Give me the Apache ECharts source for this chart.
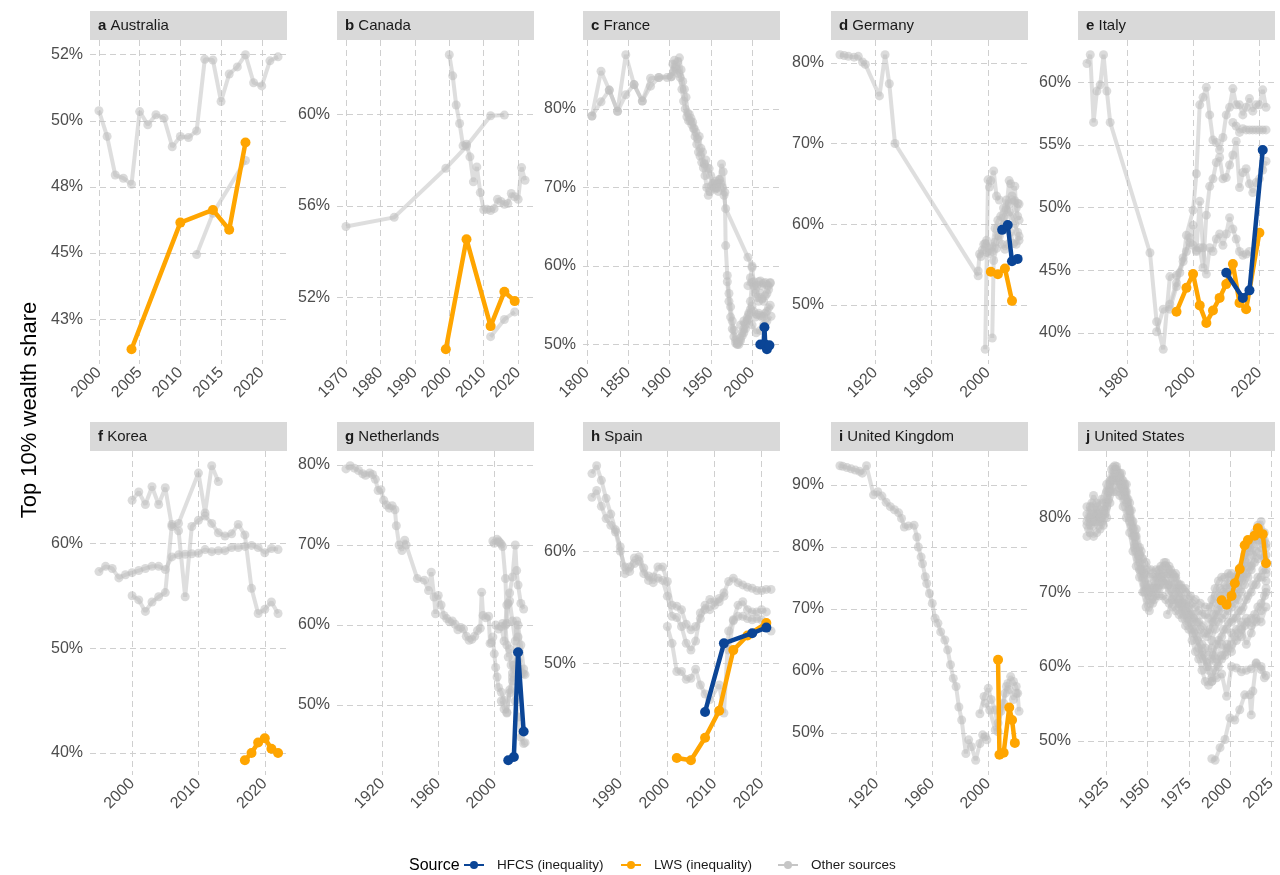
<!DOCTYPE html>
<html>
<head>
<meta charset="utf-8">
<script src="https://cdn.jsdelivr.net/npm/echarts@6/dist/echarts.min.js"></script>
<style>
  html, body { margin: 0; padding: 0; background: #ffffff; }
  #chart { width: 1280px; height: 875px; }
</style>
</head>
<body>
<div id="chart"></div>
<script>
// ---- Top 10% wealth share by country and source: [year, percent] ----

// a Australia
const ausLws = [[2004,41.36],[2010,46.15],[2014,46.63],[2016,45.88],[2018,49.18]];
const ausOtherA = [[2000,50.38],[2001,49.41],[2002,47.95],[2003,47.83],[2004,47.6],[2005,50.35],[2006,49.85],[2007,50.23],[2008,50.1],[2009,49.02],[2010,49.41],[2011,49.37],[2012,49.62],[2013,52.33],[2014,52.3],[2015,50.73],[2016,51.77],[2017,52.04],[2018,52.5],[2019,51.44],[2020,51.32],[2021,52.27],[2022,52.42]];
const ausOtherB = [[2012,44.94],[2014,46.5],[2018,48.5]];
const ausXTicks = [2000,2005,2010,2015,2020];
const ausYTicks = [42.5,45,47.5,50,52.5];
const ausYLabels = ['43%','45%','48%','50%','52%'];

// b Canada
const canLws = [[1999,49.75],[2005,54.55],[2012,50.76],[2016,52.26],[2019,51.85]];
const canOtherA = [[1970,55.1],[1984,55.5],[1999,57.64],[2005,58.6],[2012,59.93],[2016,59.96]];
const canOtherB = [[2000,62.59],[2001,61.67],[2002,60.4],[2003,59.59],[2004,58.62],[2005,58.69],[2006,58.14],[2007,57.05],[2008,57.7],[2009,56.58],[2010,55.83],[2011,55.85],[2012,55.8],[2013,55.88],[2014,56.29],[2015,56.19],[2016,56.07],[2017,56.1],[2018,56.54],[2019,56.4],[2020,56.29],[2021,57.67],[2022,57.12]];
const canOtherC = [[2012,50.3],[2016,51.05],[2019,51.38]];
const canXTicks = [1970,1980,1990,2000,2010,2020];
const canYTicks = [52,56,60];
const canYLabels = ['52%','56%','60%'];

// c France
const fraHfcs = [[2010,50.0],[2014,50.0],[2015,52.2],[2016,50.0],[2018,49.4],[2021,49.9]];
const fraOtherA = [[1806,79.1],[1817,84.8],[1827,82.4],[1837,79.7],[1847,86.9],[1857,83.1],[1867,81.0],[1877,83.9],[1887,84.0],[1897,84.0],[1902,84.1],[1904,85.7],[1906,86.2],[1908,85.5],[1910,86.0],[1912,86.5],[1914,85.0],[1916,83.5],[1918,82.5],[1920,81.5],[1922,79.5],[1924,79.3],[1926,78.8],[1928,78.3],[1930,77.5],[1932,77.0],[1934,76.2],[1936,76.5],[1938,75.0],[1940,74.5],[1942,73.0],[1944,73.5],[1946,72.5],[1948,72.4],[1950,71.5],[1952,70.5],[1954,70.0],[1956,70.8],[1958,70.5],[1960,71.0],[1962,70.5],[1964,70.0],[1966,69.0],[1968,67.3],[1995,61.1],[2000,60.0]];
const fraOtherB = [[1806,79.1],[1817,80.9],[1827,82.4],[1837,79.7],[1847,81.8],[1857,83.1],[1867,81.0],[1877,82.9],[1887,84.0],[1902,84.1],[1905,84.8],[1907,85.2],[1909,85.0],[1911,84.5],[1913,84.0],[1915,82.5],[1917,81.0],[1919,80.0],[1921,79.0],[1923,78.5],[1925,78.5],[1927,78.0],[1929,77.5],[1931,76.5],[1933,75.5],[1935,74.5],[1937,74.0],[1939,73.2],[1941,72.5],[1943,71.5],[1945,70.0],[1947,69.0],[1949,69.5],[1951,70.2],[1953,70.5],[1955,69.8],[1957,70.0],[1959,69.5],[1961,71.0],[1963,73.0],[1965,72.0],[1967,69.4],[1968,62.6],[1970,58.8],[1972,56.5],[1974,54.8],[1976,53.0],[1978,51.8],[1980,50.6],[1982,50.1],[1984,50.0],[1986,50.5],[1988,51.1],[1990,51.5],[1992,52.0],[1994,53.4],[1996,53.8],[1998,55.5],[2000,57.9],[2002,57.5],[2004,56.5],[2006,56.0],[2008,55.5],[2010,56.5],[2012,55.8],[2014,55.5],[2016,56.2],[2018,56.5],[2020,57.0],[2022,57.8]];
const fraOtherC = [[1970,58.0],[1972,55.5],[1974,53.5],[1976,52.0],[1978,51.0],[1980,50.2],[1982,50.0],[1984,50.3],[1986,50.8],[1988,51.5],[1990,52.0],[1992,52.5],[1994,53.0],[1996,54.0],[1998,54.5],[2000,54.9],[2002,54.2],[2004,53.5],[2006,53.8],[2008,54.0],[2010,53.7],[2012,53.5],[2014,53.6],[2016,54.0],[2018,54.2],[2020,54.7],[2022,55.0]];
const fraOtherD = [[1995,57.5],[1998,58.5],[2000,59.8],[2002,58.0],[2004,57.0],[2006,57.5],[2008,58.0],[2010,58.1],[2012,57.5],[2014,57.8],[2016,57.9],[2018,57.6],[2020,57.5],[2022,57.9]];
const fraOtherE = [[1986,52.5],[1990,53.0],[1995,53.2],[2000,52.5],[2005,51.5],[2010,51.8],[2014,52.5],[2018,53.0],[2023,53.6]];
const fraXTicks = [1800,1850,1900,1950,2000];
const fraYTicks = [50,60,70,80];
const fraYLabels = ['50%','60%','70%','80%'];

// d Germany
const deuHfcs = [[2010,59.3],[2014,59.9],[2017,55.4],[2021,55.7]];
const deuLws = [[2002,54.1],[2007,53.8],[2012,54.5],[2017,50.5]];
const deuOtherA = [[1895,81.0],[1898,80.9],[1901,80.8],[1905,80.7],[1908,80.8],[1911,80.1],[1913,79.8],[1923,75.9],[1927,81.0],[1930,77.4],[1934,70.0],[1993,53.6]];
const deuOtherB = [[1993,54.2],[1994,56.3],[1996,56.8],[1998,57.6],[1999,56.5],[2001,56.4],[2003,56.6],[2005,57.8],[2007,58.6],[2009,59.6],[2011,60.8],[2013,61.8],[2015,62.5],[2017,63.0],[2019,62.9],[2021,62.6],[2022,62.5]];
const deuOtherC = [[1998,44.5],[2000,65.5],[2001,64.6],[2002,65.4],[2004,66.6],[2006,63.5],[2008,63.0]];
const deuOtherD = [[2003,45.9],[2004,55.5],[2006,57.0],[2008,58.5],[2010,57.5],[2012,56.9],[2014,57.5],[2016,59.0],[2018,57.6],[2020,57.5],[2022,58.5]];
const deuOtherE = [[2012,60.0],[2015,65.4],[2016,65.0],[2017,63.5],[2019,64.7],[2020,62.0],[2021,61.0],[2022,60.5]];
const deuOtherF = [[1995,56.0],[1997,57.5],[1999,58.0],[2001,57.0],[2003,57.2],[2005,59.5],[2007,60.5],[2009,61.0],[2011,62.0],[2013,63.0],[2015,61.5],[2017,61.0],[2019,60.0],[2021,59.0],[2022,58.0]];
const deuXTicks = [1920,1960,2000];
const deuYTicks = [50,60,70,80];
const deuYLabels = ['50%','60%','70%','80%'];

// e Italy
const itaHfcs = [[2010,44.8],[2015,42.8],[2017,43.4],[2021,54.6]];
const itaLws = [[1995,41.7],[1998,43.6],[2000,44.7],[2002,42.2],[2004,40.8],[2006,41.8],[2008,42.8],[2010,43.9],[2012,45.5],[2014,42.4],[2016,41.9],[2020,48.0]];
const itaOtherA = [[1968,61.5],[1969,62.2],[1970,56.8],[1971,59.3],[1972,59.8],[1973,62.2],[1974,59.3],[1975,56.8],[1987,46.4],[1989,40.9],[1991,38.7],[1993,44.5],[1995,44.6],[1997,45.7],[1998,47.8],[2000,49.8],[2001,52.7],[2002,58.2],[2003,58.8],[2004,59.6],[2005,57.4],[2006,55.4],[2007,55.2],[2008,54.6],[2009,55.6],[2010,57.4],[2011,58.0],[2012,59.5],[2013,58.2],[2014,58.2],[2015,57.4],[2016,58.0],[2017,58.7],[2018,57.7],[2019,58.2],[2020,58.2],[2021,59.4],[2022,58.0]];
const itaOtherB = [[1989,40.1],[1991,41.9],[1993,41.9],[1995,43.7],[1996,44.8],[1998,46.5],[1999,47.6],[2000,48.6],[2001,46.5],[2002,50.5],[2003,46.8],[2004,44.7],[2005,46.8],[2006,46.5],[2007,47.5],[2008,47.9],[2009,47.0],[2010,47.9],[2011,49.2],[2012,48.3],[2013,47.5],[2014,46.5],[2015,46.2],[2016,46.3],[2017,46.5]];
const itaOtherC = [[1993,42.3],[1995,44.0],[1997,46.0],[1999,47.2],[2000,47.0],[2001,46.6],[2002,46.8],[2003,45.2],[2004,49.4],[2005,51.7],[2006,52.3],[2007,53.6],[2008,54.0],[2009,52.3],[2010,52.4],[2011,53.4],[2012,54.2],[2013,55.3],[2014,51.6],[2015,52.8],[2016,53.1],[2017,51.9],[2018,51.2],[2019,52.0],[2020,52.3],[2021,53.0],[2022,53.7]];
const itaOtherD = [[2012,56.8],[2013,56.5],[2014,56.0],[2015,56.3],[2016,56.2],[2017,56.2],[2018,56.2],[2019,56.2],[2020,56.2],[2021,56.2],[2022,56.2]];
const itaXTicks = [1980,2000,2020];
const itaYTicks = [40,45,50,55,60];
const itaYLabels = ['40%','45%','50%','55%','60%'];

// f Korea
const korLws = [[2017,39.3],[2018,40.0],[2019,41.0],[2020,41.4],[2021,40.4],[2022,40.0]];
const korOtherA = [[1995,57.3],[1996,57.8],[1997,57.6],[1998,56.7],[1999,57.0],[2000,57.2],[2001,57.4],[2002,57.6],[2003,57.8],[2004,57.8],[2005,57.5],[2006,58.7],[2007,58.9],[2008,58.95],[2009,59.0],[2010,59.05],[2011,59.4],[2012,59.2],[2013,59.3],[2014,59.3],[2015,59.6],[2016,59.6],[2017,59.7],[2018,59.8],[2019,59.6],[2020,59.1],[2021,59.5],[2022,59.4]];
const korOtherB = [[2000,64.1],[2001,64.9],[2002,63.7],[2003,65.4],[2004,63.7],[2005,65.3],[2006,61.6],[2007,61.9],[2010,66.7],[2011,62.9],[2012,67.4],[2013,65.9]];
const korOtherC = [[2000,55.0],[2001,54.6],[2002,53.5],[2003,54.4],[2004,54.9],[2005,55.3],[2006,61.8],[2007,61.2],[2008,54.9],[2009,61.6],[2010,62.2],[2011,62.6],[2012,61.9],[2013,61.0],[2014,60.7],[2015,60.9],[2016,61.8],[2017,60.8],[2018,55.7],[2019,53.3],[2020,53.7],[2021,54.4],[2022,53.3]];
const korXTicks = [2000,2010,2020];
const korYTicks = [40,50,60];
const korYLabels = ['40%','50%','60%'];

// g Netherlands
const nldHfcs = [[2010,43.1],[2014,43.5],[2017,56.6],[2021,46.7]];
const nldOtherA = [[1894,79.5],[1897,79.9],[1900,79.6],[1903,79.3],[1906,78.9],[1908,78.7],[1911,79.0],[1913,78.8],[1915,78.2],[1917,76.8],[1919,76.9],[1921,75.6],[1923,75.0],[1925,74.6],[1927,74.9],[1929,74.4],[1930,72.4],[1932,70.0],[1934,69.3],[1936,70.6],[1937,70.0],[1945,65.8],[1950,65.6],[1953,64.3],[1955,66.6],[1957,63.5],[1958,61.4],[1960,63.7],[1962,62.5],[1964,61.2],[1966,60.8],[1968,60.4],[1970,60.5],[1972,60.1],[1974,59.4],[1976,59.7],[1978,59.5],[1980,58.6],[1982,58.1],[1984,58.2],[1986,58.6],[1988,59.3],[1990,59.6],[1991,64.1],[1992,61.2],[1994,60.9],[1996,61.1],[1997,57.7],[1998,57.8],[1999,58.5],[2000,56.4],[2001,54.7],[2002,53.5],[2003,52.2],[2005,51.6],[2007,50.6],[2009,49.1],[2011,51.9],[2013,53.5],[2015,54.5],[2017,55.5],[2019,54.0],[2021,53.9]];
const nldOtherB = [[1999,70.5],[2000,70.2],[2002,70.7],[2003,70.5],[2004,70.3],[2005,70.1],[2006,69.8],[2008,65.8],[2009,60.2],[2010,62.7],[2011,64.0],[2013,66.0],[2015,70.0],[2016,66.8],[2017,65.0],[2019,62.7],[2021,62.0]];
const nldOtherC = [[2006,60.2],[2008,60.0],[2009,57.5],[2010,56.0],[2011,57.0],[2012,55.0],[2013,54.0],[2014,55.0],[2016,60.5],[2017,58.5],[2018,54.5],[2020,54.0],[2022,53.8]];
const nldOtherD = [[2005,50.5],[2007,49.5],[2009,49.0],[2011,51.5],[2013,53.0],[2015,50.5],[2017,48.5],[2019,46.0],[2021,45.2],[2022,45.3]];
const nldOtherE = [[2001,60.0],[2003,59.5],[2005,59.8],[2007,58.0],[2009,62.5],[2011,63.0],[2013,60.5],[2015,58.0],[2017,60.0],[2019,57.5],[2021,54.5]];
const nldXTicks = [1920,1960,2000];
const nldYTicks = [50,60,70,80];
const nldYLabels = ['50%','60%','70%','80%'];

// h Spain
const espHfcs = [[2008,45.7],[2012,51.8],[2018,52.7],[2021,53.2]];
const espLws = [[2002,41.6],[2005,41.4],[2008,43.4],[2011,45.8],[2014,51.2],[2017,52.5],[2021,53.6]];
const espOtherA = [[1984,66.9],[1985,67.6],[1986,66.3],[1987,64.7],[1988,63.3],[1989,61.9],[1990,60.4],[1991,58.0],[1992,58.6],[1993,59.4],[1994,59.5],[1995,58.5],[1996,57.4],[1997,57.7],[1998,58.6],[1999,58.6],[2000,57.3],[2001,55.2],[2002,55.1],[2003,54.8],[2004,53.5],[2005,53.0],[2006,53.3],[2007,54.0],[2008,54.8],[2009,55.7],[2010,55.5],[2011,55.5],[2012,56.3],[2013,57.3],[2014,57.6],[2015,57.2],[2016,57.0],[2017,56.8],[2018,56.7],[2019,56.5],[2020,56.5],[2021,56.6],[2022,56.6]];
const espOtherB = [[1984,64.8],[1985,65.4],[1986,64.0],[1987,62.9],[1988,62.3],[1989,61.7],[1990,60.0],[1991,58.6],[1992,58.2],[1993,58.9],[1994,59.1],[1995,58.0],[1996,57.8],[1997,57.2],[1998,57.6],[1999,57.4],[2000,56.0],[2001,54.2],[2002,54.1],[2003,53.3],[2004,51.8],[2005,51.2],[2006,52.0],[2007,54.5],[2008,55.2],[2009,54.8],[2010,55.2],[2011,55.8],[2012,56.0]];
const espOtherC = [[2000,53.3],[2001,51.8],[2002,49.3],[2003,49.3],[2004,48.6],[2005,48.7],[2006,49.5],[2007,48.1],[2008,47.3],[2009,46.8],[2011,48.1],[2012,45.6],[2013,52.9],[2014,53.9],[2015,55.2],[2016,55.5],[2017,54.8],[2018,54.6],[2019,54.6],[2020,54.8],[2021,54.6]];
const espOtherD = [[2013,51.2],[2014,53.8],[2015,54.2],[2016,54.2],[2017,54.0],[2018,53.9],[2019,54.0],[2020,53.9],[2021,53.6],[2022,52.9]];
const espXTicks = [1990,2000,2010,2020];
const espYTicks = [50,60];
const espYLabels = ['50%','60%'];

// i United Kingdom
const gbrLws = [[2007,61.8],[2008,46.5],[2011,46.8],[2015,54.1],[2017,52.1],[2019,48.4]];
const gbrOtherA = [[1894,93.1],[1896,93.0],[1899,92.8],[1902,92.6],[1905,92.4],[1908,92.2],[1910,91.9],[1913,93.1],[1918,88.4],[1921,88.9],[1924,88.2],[1927,87.2],[1930,86.5],[1933,86.0],[1936,85.5],[1938,84.6],[1940,83.2],[1943,83.4],[1947,83.5],[1949,81.6],[1950,80.0],[1952,78.4],[1953,77.3],[1955,75.2],[1956,74.1],[1958,72.5],[1960,70.9],[1962,68.5],[1964,67.7],[1966,66.3],[1969,65.0],[1971,63.4],[1973,61.0],[1975,58.8],[1977,57.5],[1979,54.2],[1981,52.1],[1984,46.7],[1986,48.9],[1988,47.8],[1991,45.6],[1994,48.3],[1996,49.7],[1998,49.4],[1999,48.9]];
const gbrOtherB = [[1994,53.1],[1997,55.9],[2000,57.2],[2002,55.4],[2005,53.7],[2007,50.2],[2009,53.5],[2012,56.4],[2014,58.0],[2016,59.1],[2018,58.3],[2020,57.5],[2021,56.4],[2022,53.5]];
const gbrOtherC = [[1998,54.8],[2001,53.7],[2005,50.5],[2007,51.6],[2011,54.8],[2013,57.5],[2015,57.0],[2018,55.4],[2020,56.4]];
const gbrXTicks = [1920,1960,2000];
const gbrYTicks = [50,60,70,80,90];
const gbrYLabels = ['50%','60%','70%','80%','90%'];

// j United States
const usaLws = [[1995,68.9],[1998,68.3],[2001,69.5],[2003,71.2],[2006,73.1],[2009,76.3],[2011,77.0],[2015,77.6],[2017,78.6],[2020,77.8],[2022,73.9]];
const usaOtherA = [[1913,80.5],[1915,81.5],[1917,83.0],[1919,82.0],[1921,81.0],[1923,82.0],[1925,83.5],[1927,85.0],[1929,86.8],[1931,86.5],[1933,85.5],[1935,85.0],[1937,83.5],[1939,82.0],[1941,79.5],[1943,77.5],[1945,76.0],[1947,74.5],[1949,73.0],[1951,72.0],[1953,72.5],[1955,72.0],[1957,72.5],[1959,73.0],[1961,73.5],[1963,73.5],[1965,72.5],[1967,72.0],[1969,71.0],[1971,70.5],[1973,70.0],[1975,69.0],[1977,68.5],[1979,68.0],[1981,67.5],[1983,67.0],[1985,67.0],[1987,66.5],[1989,69.0],[1991,70.5],[1993,71.5],[1995,72.0],[1997,72.0],[1999,72.5],[2001,72.5],[2003,72.0],[2005,72.5],[2007,73.5],[2009,75.0],[2011,76.0],[2013,77.0],[2015,78.0],[2017,79.0],[2019,79.5],[2021,78.0],[2022,76.0]];
const usaOtherB = [[1913,77.5],[1915,78.0],[1917,77.5],[1919,78.0],[1921,78.5],[1923,79.0],[1925,80.0],[1927,82.0],[1929,83.5],[1931,83.5],[1933,83.0],[1935,81.5],[1937,80.0],[1939,78.0],[1941,75.5],[1943,73.5],[1945,72.0],[1947,70.0],[1949,68.0],[1951,67.5],[1953,68.5],[1955,69.5],[1957,69.5],[1959,69.5],[1961,69.0],[1963,68.5],[1965,68.0],[1967,67.5],[1969,67.0],[1971,66.5],[1973,65.5],[1975,65.0],[1977,63.5],[1979,62.0],[1981,61.0],[1983,59.5],[1985,58.0],[1987,57.5],[1989,58.5],[1991,59.5],[1993,60.0],[1995,61.0],[1997,61.5],[1999,62.5],[2001,63.0],[2003,64.0],[2005,64.5],[2007,65.0],[2009,65.5],[2011,66.0],[2013,66.5],[2015,67.0],[2017,68.0],[2019,68.5],[2021,69.5],[2022,70.0]];
const usaOtherC = [[1913,79.0],[1915,80.0],[1917,80.5],[1919,80.0],[1921,79.5],[1923,80.5],[1925,82.0],[1927,83.5],[1929,85.5],[1931,85.0],[1933,84.5],[1935,83.0],[1937,82.0],[1939,80.0],[1941,77.5],[1943,75.5],[1945,74.0],[1947,72.0],[1949,70.5],[1951,69.5],[1953,70.5],[1955,71.0],[1957,71.0],[1959,71.5],[1961,71.5],[1963,71.0],[1965,70.5],[1967,70.0],[1969,69.0],[1971,68.5],[1973,67.5],[1975,67.0],[1977,66.0],[1979,65.0],[1981,64.0],[1983,63.0],[1985,62.5],[1987,61.5],[1989,63.5],[1991,65.0],[1993,66.0],[1995,66.5],[1997,67.0],[1999,67.5],[2001,68.0],[2003,68.5],[2005,69.0],[2007,70.0],[2009,71.0],[2011,72.0],[2013,73.0],[2015,74.0],[2017,74.5],[2019,75.0],[2021,74.5],[2022,73.0]];
const usaOtherD = [[1914,78.5],[1916,79.5],[1918,81.0],[1920,79.0],[1922,80.0],[1924,81.0],[1926,82.5],[1928,85.0],[1930,86.0],[1932,84.5],[1934,84.0],[1936,83.5],[1938,81.0],[1940,79.0],[1942,76.5],[1944,74.5],[1946,73.0],[1948,71.0],[1950,69.0],[1952,70.0],[1954,70.5],[1956,72.0],[1958,72.0],[1960,72.5],[1962,72.5],[1964,71.5],[1966,71.0],[1968,70.5],[1970,69.5],[1972,68.5],[1974,68.0],[1976,67.0],[1978,66.5],[1980,66.0],[1982,65.0],[1984,64.5],[1986,64.0],[1988,65.0],[1990,67.0],[1992,68.5],[1994,69.5],[1996,70.0],[1998,70.5],[2000,71.0],[2002,71.0],[2004,71.5],[2006,72.0],[2008,73.0],[2010,74.0],[2012,75.5],[2014,76.5],[2016,77.5],[2018,77.0],[2020,76.5],[2022,75.0]];
const usaOtherE = [[1962,67.0],[1965,69.0],[1969,68.5],[1983,62.0],[1986,60.0],[1989,58.0],[1992,60.5],[1995,61.5],[1998,63.0],[2001,62.0],[2004,63.5],[2007,64.0],[2010,66.5],[2013,65.5],[2016,66.0],[2019,67.5],[2022,70.5]];
const usaOtherF = [[1989,58.0],[1992,58.5],[1995,59.0],[1998,56.0],[2001,60.0],[2004,59.8],[2007,59.3],[2010,59.5],[2013,59.7],[2016,60.5],[2019,60.0],[2022,58.8]];
const usaOtherG = [[1989,47.6],[1991,47.4],[1994,49.1],[1997,50.2],[2000,53.1],[2003,52.8],[2006,54.2],[2009,56.2],[2012,56.2],[2013,53.5],[2014,56.7],[2016,60.4],[2019,59.6],[2021,58.5]];
const usaOtherH = [[1913,79.5],[1916,82.0],[1919,80.5],[1922,79.5],[1925,81.5],[1928,84.0],[1930,87.0],[1933,86.0],[1936,84.5],[1939,81.0],[1942,77.5],[1945,75.0],[1948,72.5],[1951,70.5],[1954,71.5],[1957,73.0],[1960,74.0],[1963,72.5],[1966,72.0],[1969,70.0],[1972,69.0],[1975,68.0],[1978,67.0],[1981,66.0],[1984,65.5],[1987,64.5],[1990,66.0],[1993,67.5],[1996,69.0],[1999,70.0],[2002,70.0],[2005,70.5],[2008,72.0],[2011,73.5],[2014,75.0],[2017,77.0],[2020,77.5],[2022,76.5]];
const usaOtherI = [[1914,80.0],[1917,79.0],[1920,80.5],[1923,81.0],[1926,83.5],[1929,85.0],[1932,85.5],[1935,84.0],[1938,82.5],[1941,78.5],[1944,75.0],[1947,73.0],[1950,71.0],[1953,69.5],[1956,70.5],[1959,72.0],[1962,71.0],[1965,69.0],[1968,68.5],[1971,67.5],[1974,66.5],[1977,65.0],[1980,63.5],[1983,61.5],[1986,60.5],[1989,61.0],[1992,63.0],[1995,64.0],[1998,65.0],[2001,66.0],[2004,66.5],[2007,67.5],[2010,69.0],[2013,70.0],[2016,71.0],[2019,72.0],[2022,71.5]];
const usaOtherJ = [[1989,66.0],[1992,67.0],[1995,68.0],[1998,68.5],[2001,69.0],[2004,69.5],[2007,71.5],[2010,72.5],[2013,73.5],[2016,75.5],[2019,76.0],[2022,74.0]];
const usaOtherK = [[1989,62.5],[1992,61.0],[1995,63.0],[1998,62.0],[2001,64.5],[2004,65.0],[2007,66.0],[2010,63.0],[2013,64.5],[2016,66.5],[2019,66.0],[2022,68.0]];
const usaOtherL = [[1915,79.0],[1918,79.5],[1921,80.0],[1924,80.5],[1927,84.0],[1930,85.5],[1933,84.0],[1936,82.5],[1939,79.5],[1942,76.0],[1945,73.0],[1948,70.0],[1951,68.5],[1954,69.0],[1957,70.5],[1960,71.0],[1963,70.0],[1966,69.5],[1969,68.0],[1972,67.0],[1975,66.0],[1978,64.5],[1981,62.5],[1984,61.0],[1987,59.5],[1990,61.5],[1993,63.5],[1996,65.0],[1999,66.0],[2002,66.5],[2005,67.5],[2008,68.0],[2011,69.5],[2014,71.0],[2017,72.0],[2020,73.0],[2022,72.5]];
const usaOtherM = [[1913,81.5],[1916,80.5],[1919,81.5],[1922,82.5],[1925,84.5],[1928,86.5],[1931,86.9],[1934,86.0],[1937,84.5],[1940,81.0],[1943,78.5],[1946,75.5],[1949,74.0],[1952,73.0],[1955,73.0],[1958,73.5],[1961,74.0],[1964,73.0],[1967,72.5],[1970,71.0],[1973,70.5],[1976,69.5],[1979,69.0],[1982,68.5],[1985,68.0],[1988,68.0],[1991,69.5],[1994,70.5],[1997,71.0],[2000,72.0],[2003,71.5],[2006,72.5],[2009,74.5],[2012,76.0],[2015,77.5],[2018,78.5],[2021,77.0]];
const usaXTicks = [1925,1950,1975,2000,2025];
const usaYTicks = [50,60,70,80];
const usaYLabels = ['50%','60%','70%','80%'];

// ---- facet table built from the arrays above ----
const facets = [
  { tag: 'a', title: 'Australia', hfcs: null, lws: ausLws, other: [ausOtherA, ausOtherB], xt: ausXTicks, yt: ausYTicks, yl: ausYLabels },
  { tag: 'b', title: 'Canada', hfcs: null, lws: canLws, other: [canOtherA, canOtherB, canOtherC], xt: canXTicks, yt: canYTicks, yl: canYLabels },
  { tag: 'c', title: 'France', hfcs: fraHfcs, lws: null, other: [fraOtherA, fraOtherB, fraOtherC, fraOtherD, fraOtherE], xt: fraXTicks, yt: fraYTicks, yl: fraYLabels },
  { tag: 'd', title: 'Germany', hfcs: deuHfcs, lws: deuLws, other: [deuOtherA, deuOtherB, deuOtherC, deuOtherD, deuOtherE, deuOtherF], xt: deuXTicks, yt: deuYTicks, yl: deuYLabels },
  { tag: 'e', title: 'Italy', hfcs: itaHfcs, lws: itaLws, other: [itaOtherA, itaOtherB, itaOtherC, itaOtherD], xt: itaXTicks, yt: itaYTicks, yl: itaYLabels },
  { tag: 'f', title: 'Korea', hfcs: null, lws: korLws, other: [korOtherA, korOtherB, korOtherC], xt: korXTicks, yt: korYTicks, yl: korYLabels },
  { tag: 'g', title: 'Netherlands', hfcs: nldHfcs, lws: null, other: [nldOtherA, nldOtherB, nldOtherC, nldOtherD, nldOtherE], xt: nldXTicks, yt: nldYTicks, yl: nldYLabels },
  { tag: 'h', title: 'Spain', hfcs: espHfcs, lws: espLws, other: [espOtherA, espOtherB, espOtherC, espOtherD], xt: espXTicks, yt: espYTicks, yl: espYLabels },
  { tag: 'i', title: 'United Kingdom', hfcs: null, lws: gbrLws, other: [gbrOtherA, gbrOtherB, gbrOtherC], xt: gbrXTicks, yt: gbrYTicks, yl: gbrYLabels },
  { tag: 'j', title: 'United States', hfcs: null, lws: usaLws, other: [usaOtherA, usaOtherB, usaOtherC, usaOtherD, usaOtherE, usaOtherF, usaOtherG, usaOtherH, usaOtherI, usaOtherJ, usaOtherK, usaOtherL, usaOtherM], xt: usaXTicks, yt: usaYTicks, yl: usaYLabels }
];

// ---- layout ----
const COL_LEFT = [90, 337, 583, 831, 1078];
const ROW_TOP = [40, 451];
const PANEL_W = 197;
const PANEL_H = 324;
const STRIP_H = 29;
const FONT = '"Liberation Sans", Arial, Helvetica, sans-serif';
const TICK_COLOR = '#4d4d4d';
const GRID_COLOR = '#cfcfcf';
const HFCS_COLOR = '#0b4596';
const LWS_COLOR = '#ffa500';
const OTHER_COLOR = 'rgba(190,190,190,0.5)';
const OTHER_POINT = 'rgba(190,190,190,0.55)';

// ggplot-style continuous scale: data range expanded by 5% on each side
function expandedRange(values) {
  const lo = Math.min(...values), hi = Math.max(...values);
  const pad = (hi - lo) * 0.05;
  return [lo - pad, hi + pad];
}

const grids = [], xAxes = [], yAxes = [], series = [], graphics = [];

facets.forEach((f, i) => {
  const left = COL_LEFT[i % 5];
  const top = ROW_TOP[Math.floor(i / 5)];
  grids.push({ left: left, top: top, width: PANEL_W, height: PANEL_H, containLabel: false });

  const all = [].concat(...f.other, f.hfcs || [], f.lws || []);
  const xr = expandedRange(all.map(p => p[0]));
  const yr = expandedRange(all.map(p => p[1]));

  const dashed = { show: true, lineStyle: { color: GRID_COLOR, width: 1, type: [6, 4] } };

  xAxes.push({
    type: 'value', gridIndex: i, min: xr[0], max: xr[1],
    axisLine: { show: false },
    axisTick: { show: false, customValues: f.xt },
    axisLabel: {
      customValues: f.xt, rotate: 45, margin: 6,
      color: TICK_COLOR, fontSize: 16, fontFamily: FONT,
      formatter: v => String(v)
    },
    splitLine: dashed
  });

  const yt = f.yt, yl = f.yl;
  yAxes.push({
    type: 'value', gridIndex: i, min: yr[0], max: yr[1],
    axisLine: { show: false },
    axisTick: { show: false, customValues: yt },
    axisLabel: {
      customValues: yt, margin: 7,
      color: TICK_COLOR, fontSize: 16, fontFamily: FONT,
      formatter: v => {
        const k = yt.findIndex(t => Math.abs(t - v) < 1e-6);
        return k >= 0 ? yl[k] : '';
      }
    },
    splitLine: dashed
  });

  f.other.forEach(d => {
    series.push({
      type: 'line', name: 'Other sources', xAxisIndex: i, yAxisIndex: i, data: d,
      symbol: 'circle', symbolSize: 9, showSymbol: true,
      lineStyle: { color: OTHER_COLOR, width: 4 },
      itemStyle: { color: OTHER_POINT },
      emphasis: { disabled: true }, silent: true, z: 2
    });
  });
  if (f.lws) {
    series.push({
      type: 'line', name: 'LWS (inequality)', xAxisIndex: i, yAxisIndex: i, data: f.lws,
      symbol: 'circle', symbolSize: 10, showSymbol: true,
      lineStyle: { color: LWS_COLOR, width: 4.5 },
      itemStyle: { color: LWS_COLOR },
      emphasis: { disabled: true }, silent: true, z: 3
    });
  }
  if (f.hfcs) {
    series.push({
      type: 'line', name: 'HFCS (inequality)', xAxisIndex: i, yAxisIndex: i, data: f.hfcs,
      symbol: 'circle', symbolSize: 10, showSymbol: true,
      lineStyle: { color: HFCS_COLOR, width: 4.5 },
      itemStyle: { color: HFCS_COLOR },
      emphasis: { disabled: true }, silent: true, z: 4
    });
  }

  // facet strip
  graphics.push({
    type: 'rect', silent: true,
    shape: { x: left, y: top - STRIP_H, width: PANEL_W, height: STRIP_H },
    style: { fill: '#d9d9d9' }
  });
  graphics.push({
    type: 'text', silent: true, x: left + 8, y: top - STRIP_H / 2,
    style: {
      text: '{b|' + f.tag + '} ' + f.title,
      rich: { b: { fontWeight: 'bold', fontSize: 15, fontFamily: FONT, fill: '#1a1a1a' } },
      fontSize: 15, fontFamily: FONT, fill: '#1a1a1a', verticalAlign: 'middle'
    }
  });
});

// shared y title
graphics.push({
  type: 'text', silent: true, x: 30, y: 410, rotation: Math.PI / 2,
  style: { text: 'Top 10% wealth share', fontSize: 22, fontFamily: FONT, fill: '#000000', align: 'center', verticalAlign: 'middle' }
});
// legend title
graphics.push({
  type: 'text', silent: true, x: 409, y: 866,
  style: { text: 'Source', fontSize: 16, fontFamily: FONT, fill: '#000000', align: 'left', verticalAlign: 'middle' }
});

const legendBase = {
  top: 858, padding: 0, itemWidth: 20, itemHeight: 10, orient: 'horizontal',
  textStyle: { fontSize: 13.5, fontFamily: FONT, color: '#1a1a1a', padding: [0, 0, 0, 8] },
  selectedMode: false
};

const chart = echarts.init(document.getElementById('chart'), null, { renderer: 'canvas' });
chart.setOption({
  backgroundColor: '#ffffff',
  animation: false,
  grid: grids,
  xAxis: xAxes,
  yAxis: yAxes,
  series: series,
  graphic: graphics,
  legend: [
    Object.assign({}, legendBase, { left: 463, data: ['HFCS (inequality)'] }),
    Object.assign({}, legendBase, { left: 620, data: ['LWS (inequality)'] }),
    Object.assign({}, legendBase, {
      left: 777, data: ['Other sources'],
      itemStyle: { color: '#c6c6c6' }, lineStyle: { color: '#c6c6c6' }
    })
  ],
  tooltip: { show: false }
});
</script>
</body>
</html>
